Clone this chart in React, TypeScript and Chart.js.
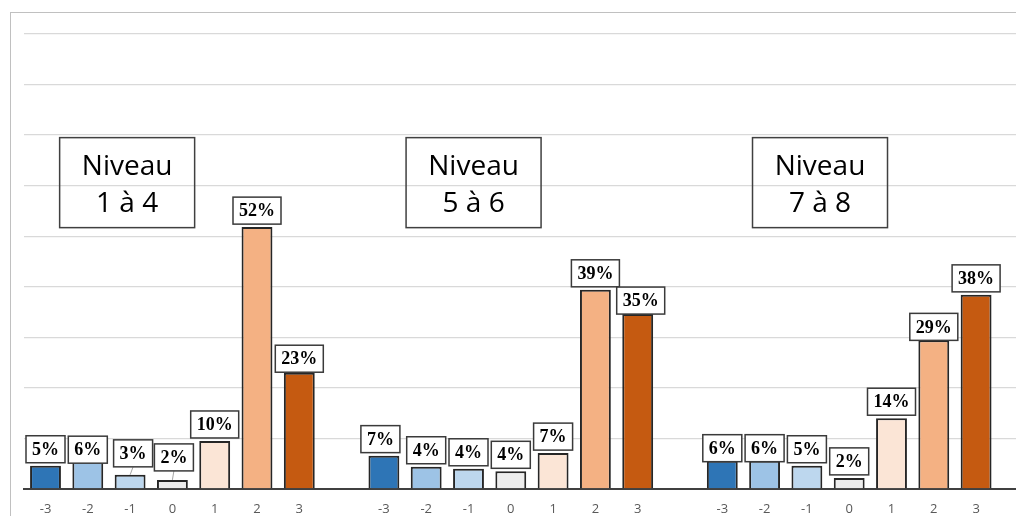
import React, { useEffect, useRef } from "react";
import { Chart, registerables } from "chart.js";

Chart.register(...registerables);

// ---- data ----
const levels = ["-3", "-2", "-1", "0", "1", "2", "3"];
const niveau1a4 = [4.6, 5.7, 2.8, 1.8, 9.5, 51.8, 23.0];
const niveau5a6 = [6.6, 4.4, 4.0, 3.5, 7.1, 39.4, 34.6];
const niveau7a8 = [5.6, 5.6, 4.6, 2.2, 14.0, 29.4, 38.4];
const groupTitles = [
  ["Niveau", "1 à 4"],
  ["Niveau", "5 à 6"],
  ["Niveau", "7 à 8"],
];
const levelColors = ["#2E75B6", "#9DC3E6", "#BDD7EE", "#EDEDED", "#FBE5D6", "#F4B183", "#C55A11"];
const yMax = 90;
const yStep = 10;

// label nudges (dx, dy in px) keyed by category index, for hand-placed labels
const labelNudges: Record<number, [number, number]> = {
  1: [0, 6],
  2: [3, -5],
  3: [1.5, -6],
  6: [0, 2.5],
  8: [-3.5, 0],
  14: [3, 3],
  16: [0, 4],
  17: [0, 4],
  21: [0, 3],
};
// title box anchor positions, in category units / value units
const titleAnchorsX = [1.93, 10.12, 18.31];
const titleAnchorY = 60.6;

const groups = [niveau1a4, niveau5a6, niveau7a8];
const categories: string[] = [];
const values: (number | null)[] = [];
const colors: string[] = [];
groups.forEach((g) => {
  levels.forEach((lv, i) => {
    categories.push(lv);
    values.push(g[i]);
    colors.push(levelColors[i]);
  });
  categories.push("");
  values.push(null);
  colors.push("rgba(0,0,0,0)");
});

const W = 1060;
const H = 540;

const framePlugin = {
  id: "frame",
  beforeDraw(chart: any) {
    const { ctx } = chart;
    ctx.save();
    ctx.fillStyle = "#ffffff";
    ctx.fillRect(0, 0, chart.width, chart.height);
    ctx.strokeStyle = "#c0c0c0";
    ctx.lineWidth = 1;
    ctx.strokeRect(10.5, 12.5, chart.width, chart.height);
    ctx.restore();
  },
};

const labelsPlugin = {
  id: "valueLabels",
  afterDatasetsDraw(chart: any) {
    const { ctx } = chart;
    const meta = chart.getDatasetMeta(0);
    ctx.save();
    ctx.font = '700 18px "Liberation Serif"';
    meta.data.forEach((bar: any, i: number) => {
      const v = values[i];
      if (v === null || v === undefined) return;
      const text = Math.round(v) + "%";
      const tw = ctx.measureText(text).width;
      const bw = tw + 12;
      const bh = 27;
      const [dx, dy] = labelNudges[i] || [0, 0];
      const gap = 3;
      const cx = bar.x + dx;
      const bottom = bar.y - gap + dy;
      if (bar.y - bottom > 7) {
        ctx.strokeStyle = "#a6a6a6";
        ctx.lineWidth = 1;
        ctx.beginPath();
        ctx.moveTo(cx, bottom);
        ctx.lineTo(bar.x, bar.y);
        ctx.stroke();
      }
      ctx.fillStyle = "#ffffff";
      ctx.fillRect(cx - bw / 2, bottom - bh, bw, bh);
      ctx.strokeStyle = "#3a3a3a";
      ctx.lineWidth = 1.5;
      ctx.strokeRect(cx - bw / 2, bottom - bh, bw, bh);
      ctx.fillStyle = "#000000";
      ctx.textAlign = "center";
      ctx.textBaseline = "middle";
      ctx.fillText(text, cx, bottom - bh / 2 + 1);
    });
    ctx.restore();
  },
};

const titlesPlugin = {
  id: "groupTitles",
  afterDraw(chart: any) {
    const { ctx } = chart;
    const xs = chart.scales.x;
    const ys = chart.scales.y;
    ctx.save();
    groupTitles.forEach((lines, gi) => {
      const cx = xs.getPixelForValue(titleAnchorsX[gi]);
      const cy = ys.getPixelForValue(titleAnchorY);
      const bw = 135;
      const bh = 90;
      ctx.strokeStyle = "#404040";
      ctx.lineWidth = 1.5;
      ctx.strokeRect(cx - bw / 2, cy - bh / 2, bw, bh);
      ctx.fillStyle = "#000000";
      ctx.font = '28px "Open Sans"';
      ctx.textAlign = "center";
      ctx.textBaseline = "alphabetic";
      ctx.fillText(lines[0], cx, cy - 8);
      ctx.fillText(lines[1], cx, cy + 29);
    });
    ctx.restore();
  },
};

export default function App() {
  const ref = useRef<HTMLCanvasElement | null>(null);
  useEffect(() => {
    if (!ref.current) return;
    const chart = new Chart(ref.current, {
      type: "bar",
      data: {
        labels: categories,
        datasets: [
          {
            data: values as any,
            backgroundColor: colors,
            borderColor: "#262626",
            borderWidth: 2,
            barPercentage: 0.73,
            categoryPercentage: 1,
          },
        ],
      },
      options: {
        responsive: false,
        animation: false,
        devicePixelRatio: 1,
        layout: { padding: { left: 24.35, right: W - 1039.55, top: 34, bottom: 11 } },
        plugins: {
          legend: { display: false },
          tooltip: { enabled: false },
        },
        scales: {
          x: {
            grid: { display: false, drawTicks: false },
            border: { display: true, color: "#404040", width: 2 },
            ticks: {
              color: "#595959",
              font: { family: '"Open Sans"', size: 13 },
              padding: 12,
              maxRotation: 0,
              autoSkip: false,
            },
            afterFit: (s: any) => {
              s.height = 40;
            },
          },
          y: {
            min: 0,
            max: yMax,
            ticks: { display: false, stepSize: yStep },
            grid: { color: "#d9d9d9", lineWidth: 1.3, drawTicks: false },
            border: { display: false },
            afterFit: (s: any) => {
              s.width = 0;
            },
          },
        },
      },
      plugins: [framePlugin, labelsPlugin, titlesPlugin],
    });
    return () => chart.destroy();
  }, []);
  return (
    <div
      style={{
        position: "fixed",
        left: 0,
        top: 0,
        width: 1016,
        height: 516,
        overflow: "hidden",
        background: "#ffffff",
      }}
    >
      <canvas ref={ref} width={W} height={H} style={{ width: W, height: H, display: "block" }} />
    </div>
  );
}
